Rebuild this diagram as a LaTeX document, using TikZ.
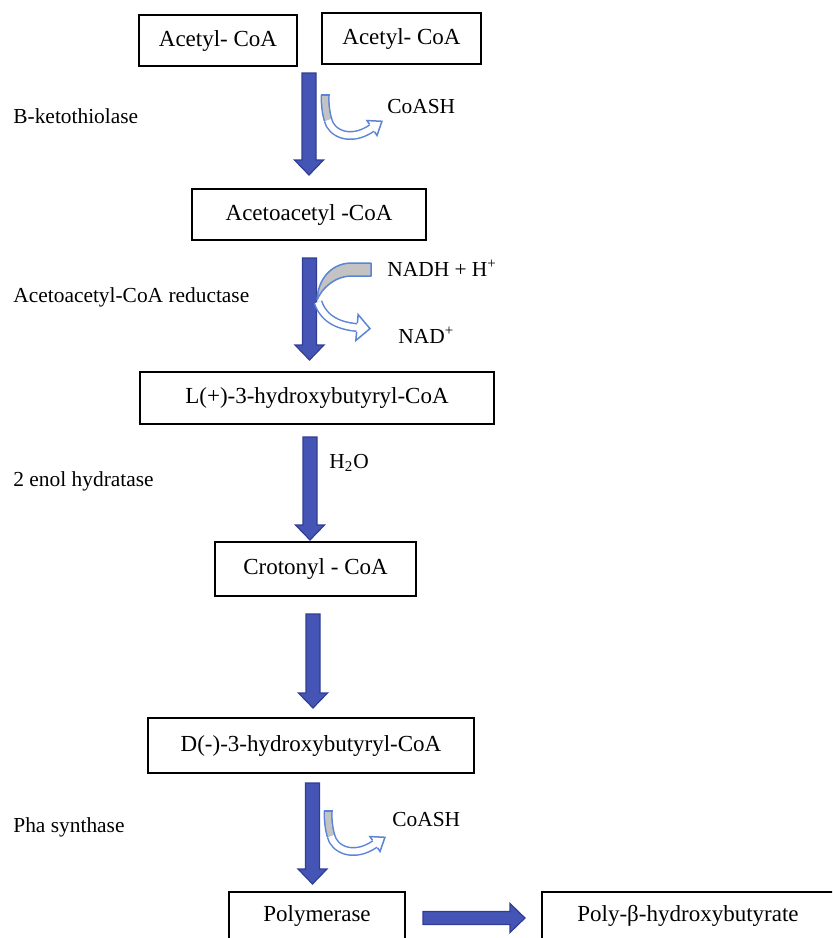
\documentclass[tikz,border=0pt]{standalone}
\usepackage{fontspec}
\setmainfont{Liberation Serif}
\usetikzlibrary{calc}
\definecolor{mainfill}{HTML}{4455B5}
\definecolor{mainline}{HTML}{2F3E94}
\definecolor{cblue}{HTML}{5B84D6}
\definecolor{bandgray}{HTML}{C3C3C3}
\tikzset{
  box/.style={draw=black, line width=1pt, inner sep=0pt, font=\fontsize{11.5}{13}\selectfont},
  lbl/.style={anchor=west, inner sep=0pt, font=\fontsize{10.7}{12}\selectfont},
  blockfill/.style={fill=mainfill, draw=mainline, line width=0.6pt, line join=miter},
  downblock/.style={blockfill, to path={let \p1=(\tikztostart), \p2=(\tikztotarget) in
    (\x1-3.5pt,\y1) -- (\x1+3.5pt,\y1) -- (\x1+3.5pt,\y2+7.5pt) -- (\x1+7.25pt,\y2+7.5pt)
    -- (\x1,\y2) -- (\x1-7.25pt,\y2+7.5pt) -- (\x1-3.5pt,\y2+7.5pt) -- cycle}},
  rightblock/.style={blockfill, to path={let \p1=(\tikztostart), \p2=(\tikztotarget) in
    (\x1,\y1-3.25pt) -- (\x2-7.5pt,\y1-3.25pt) -- (\x2-7.5pt,\y1-7.25pt) -- (\x2,\y1)
    -- (\x2-7.5pt,\y1+7.25pt) -- (\x2-7.5pt,\y1+3.25pt) -- (\x1,\y1+3.25pt) -- cycle}},
  band/.style={draw=cblue, line width=0.75pt, double distance=3pt},
  headline/.style={draw=cblue, line width=0.75pt, line join=miter},
  coashpic/.pic={
    \draw[band, double=bandgray] (0,0) .. controls (0,10) and (1,18) .. (3,25);
    \draw[band, double=white] (3,25) .. controls (6,38) and (25,48) .. (47,33);
    \draw[cblue, line width=0.75pt] (-4.5,0) -- (4.5,0);
    \begin{scope}[shift={(47,33)}, rotate=34]
      \fill[white] (0,-9) -- (12,0) -- (0,9) -- cycle;
      \draw[headline] (0,-4.5) -- (0,-9) -- (12,0) -- (0,9) -- (0,4.5);
    \end{scope}
  }
}
\begin{document}
\begin{tikzpicture}[x=0.5pt,y=-0.5pt]
\useasboundingbox (0,0) rectangle (832,938);
\clip (0,0) rectangle (832,938);

% boxes
\node[box, minimum width=79pt, minimum height=25.5pt] (acetyl1) at (218,40.5) {Acetyl- CoA};
\node[box, minimum width=79.5pt, minimum height=25.5pt] (acetyl2) at (401.5,38.5) {Acetyl- CoA};
\node[box, minimum width=117pt, minimum height=25.5pt] (acetoacetyl) at (309,214.5) {Acetoacetyl -CoA};
\node[box, minimum width=177pt, minimum height=26pt] (lhb) at (317,398) {L(+)-3-hydroxybutyryl-CoA};
\node[box, minimum width=100.5pt, minimum height=27pt] (crotonyl) at (315.5,569) {Crotonyl - CoA};
\node[box, minimum width=163pt, minimum height=27.5pt] (dhb) at (311,745.5) {D(-)-3-hydroxybutyryl-CoA};
\node[box, minimum width=88pt, minimum height=24pt] (polymerase) at (317,916) {Polymerase};
\node[box, minimum width=146pt, minimum height=24pt] (phb) at (688,916) {Poly-β-hydroxybutyrate};

% enzyme labels
\node[lbl] (e1) at (13,116) {B-ketothiolase};
\node[lbl] (e2) at (13,297) {Acetoacetyl-CoA reductase};
\node[lbl] (e3) at (13,481) {2 enol hydratase};
\node[lbl] (e4) at (13,827) {Pha synthase};

% arrow end points
\coordinate (a1s) at (309,73);   \coordinate (a1e) at (309,175);
\coordinate (a2s) at (309.5,258); \coordinate (a2e) at (309.5,360);
\coordinate (a3s) at (310,437);  \coordinate (a3e) at (310,540);
\coordinate (a4s) at (313,614);  \coordinate (a4e) at (313,708);
\coordinate (a5s) at (312.5,783); \coordinate (a5e) at (312.5,884);
\coordinate (hs) at (423,918);   \coordinate (he) at (525,918);

\draw[downblock] (a1s) to (a1e);
\draw[downblock] (a2s) to (a2e);
\draw[downblock] (a3s) to (a3e);
\draw[downblock] (a4s) to (a4e);
\draw[downblock] (a5s) to (a5e);
\draw[rightblock] (hs) to (he);

% side arrows
\pic (c1) at (325,95) {coashpic};
\pic (c3) at (328,811) {coashpic};

\draw[cblue, line width=0.75pt, fill=bandgray, line join=round]
  (371,263) -- (350,263) .. controls (331,264) and (318,279) .. (317,300)
  .. controls (322,288) and (335,276) .. (352,276) -- (371,276) -- cycle;
\draw[band, double=white] (318,302) .. controls (324,320) and (340,326) .. (357,327.5);
\begin{scope}[shift={(357,327.5)}, rotate=-5]
  \fill[white] (0,-13) -- (13,0) -- (0,13) -- cycle;
  \draw[headline] (0,-4.5) -- (0,-13) -- (13,0) -- (0,13) -- (0,4.5);
\end{scope}

% side labels
\node[lbl] (coash1) at (387,107) {CoASH};
\node[lbl] (nadh) at (387,268) {NADH + H\textsuperscript{+}};
\node[lbl] (nad) at (398,335) {NAD\textsuperscript{+}};
\node[lbl] (h2o) at (329,463) {H\textsubscript{2}O};
\node[lbl] (coash2) at (392,820) {CoASH};
\end{tikzpicture}
\end{document}
